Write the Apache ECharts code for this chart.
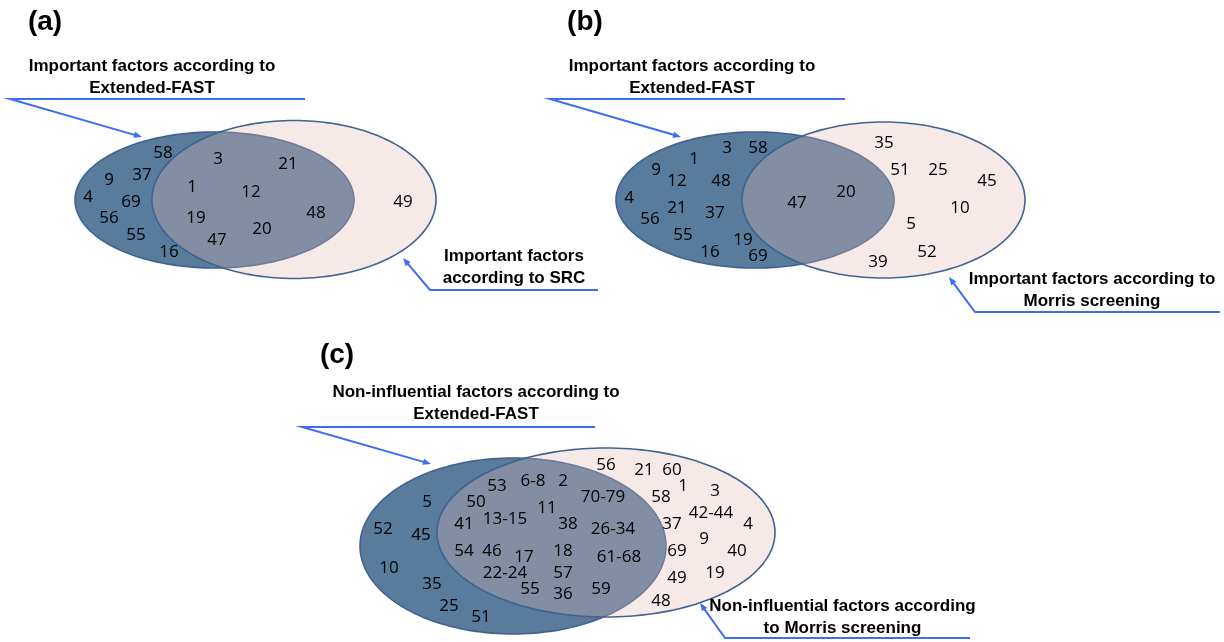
<!DOCTYPE html>
<html>
<head>
<meta charset="utf-8">
<script src="https://cdn.jsdelivr.net/npm/echarts@6/dist/echarts.min.js"></script>
<style>
html,body{margin:0;padding:0;background:#ffffff;}
#chart{width:1224px;height:642px;}
</style>
</head>
<body>
<div id="chart"></div>
<script>
// ---------------- DATA ----------------
const panelNames = ['(a)', '(b)', '(c)'];

const setTitles = [
  ['Important factors according to\nExtended-FAST', 'Important factors\naccording to SRC'],
  ['Important factors according to\nExtended-FAST', 'Important factors according to\nMorris screening'],
  ['Non-influential factors according to\nExtended-FAST', 'Non-influential factors according\nto Morris screening']
];

// (a) Extended-FAST vs SRC
const aOnlyFAST = ['58', '9', '37', '4', '69', '56', '55', '16'];
const aBoth     = ['3', '21', '1', '12', '19', '20', '47', '48'];
const aOnlySRC  = ['49'];

// (b) Extended-FAST vs Morris
const bOnlyFAST   = ['3', '58', '1', '9', '12', '48', '4', '21', '37', '56', '55', '16', '19', '69'];
const bBoth       = ['47', '20'];
const bOnlyMorris = ['35', '51', '25', '45', '10', '5', '52', '39'];

// (c) non-influential: Extended-FAST vs Morris
const cOnlyFAST   = ['5', '52', '45', '10', '35', '25', '51'];
const cBoth       = ['53', '6-8', '2', '50', '70-79', '11', '41', '13-15', '38', '26-34',
                     '54', '46', '17', '18', '61-68', '22-24', '57', '55', '36', '59'];
const cOnlyMorris = ['56', '21', '60', '1', '3', '58', '42-44', '37', '4', '9', '69', '40', '19', '49', '48'];

// ---------------- LAYOUT (drawing space 0..1224 x 0..642) ----------------
const ellipseLayout = [ // [cx, cy, rx, ry] ; first = Extended-FAST set, second = other set
  [[214.5, 200, 139.5, 68], [294, 199.5, 142, 79]],
  [[755, 200, 139, 68], [883.5, 200, 141.5, 78]],
  [[513, 546, 153, 88], [606, 532.5, 169, 84.5]]
];
const panelLabelPos = [[45, 22], [585, 22], [337, 355]];
const titlePos = [
  [[152, 77.5], [514, 267.5]],
  [[692, 77.5], [1092, 290]],
  [[476, 403.5], [842.5, 617]]
];
const calloutPaths = [
  [[305, 99], [10, 99], [142, 137]],
  [[598, 290], [430, 290], [403, 258]],
  [[845, 99], [550, 99], [681, 137]],
  [[1220, 312], [975, 312], [949, 277]],
  [[595, 427], [302, 427], [431, 464]],
  [[970, 638], [725, 638], [700, 603]]
];
const aPos = {
  fast: [[163,153],[109,180],[142,175],[88,197],[131,202],[109,218],[136,235],[169,252]],
  both: [[218,159],[288,164],[192,187],[251,192],[196,218],[262,229],[217,240],[316,213]],
  other: [[403,202]]
};
const bPos = {
  fast: [[727,148],[758,148],[694,159],[656,170],[677,181],[721,181],[629,198],[677,208],[715,213],[650,219],[683,235],[710,252],[743,240],[758,256]],
  both: [[797,203],[846,192]],
  other: [[884,143],[900,170],[938,170],[987,181],[960,208],[911,224],[927,252],[878,262]]
};
const cPos = {
  fast: [[427,502],[383,529],[421,535],[389,568],[432,584],[449,606],[481,617]],
  both: [[497,486],[533,481],[563,481],[476,502],[603,497],[547,508],[464,524],[505,519],[568,524],[613,529],
         [464,551],[492,551],[524,557],[563,551],[619,557],[505,573],[563,573],[530,589],[563,594],[601,589]],
  other: [[606,465],[644,470],[672,470],[683,486],[715,491],[661,497],[711,513],[672,524],[748,524],[704,539],
          [677,551],[737,551],[715,573],[677,578],[661,601]]
};

// ---------------- BUILD ----------------
function pts(names, pos) {
  return names.map((n, i) => ({ name: n, value: pos[i] }));
}
const numberData = [].concat(
  pts(aOnlyFAST, aPos.fast), pts(aBoth, aPos.both), pts(aOnlySRC, aPos.other),
  pts(bOnlyFAST, bPos.fast), pts(bBoth, bPos.both), pts(bOnlyMorris, bPos.other),
  pts(cOnlyFAST, cPos.fast), pts(cBoth, cPos.both), pts(cOnlyMorris, cPos.other)
);
const titleData = [];
setTitles.forEach((pair, p) => pair.forEach((t, k) => titleData.push({ name: t, value: titlePos[p][k] })));
const panelData = panelNames.map((n, i) => ({ name: n, value: panelLabelPos[i] }));

const ellipseData = [];
ellipseLayout.forEach(pair => {
  ellipseData.push(pair[0].concat([0]));
  ellipseData.push(pair[1].concat([1]));
});

const DARK_FILL = '#597b9c';
const PINK_FILL = 'rgba(224,186,180,0.30)';
const EDGE = '#41628f';
const CALLOUT = '#3d6df2';

const chart = echarts.init(document.getElementById('chart'), null, { renderer: 'canvas' });

function textSeries(data, font) {
  return {
    type: 'custom', silent: true, z: 5,
    data: data.map(d => d.value),
    renderItem: function (params, api) {
      const p = api.coord([api.value(0), api.value(1)]);
      return {
        type: 'text',
        x: p[0], y: p[1],
        style: Object.assign({
          text: data[params.dataIndex].name,
          fill: '#000',
          align: 'center',
          verticalAlign: 'middle'
        }, font)
      };
    }
  };
}

chart.setOption({
  animation: false,
  backgroundColor: '#ffffff',
  grid: { left: 0, right: 0, top: 0, bottom: 0, containLabel: false },
  xAxis: { type: 'value', min: 0, max: 1224, show: false },
  yAxis: { type: 'value', min: 0, max: 642, inverse: true, show: false },
  series: [
    {
      type: 'custom', silent: true, z: 1,
      data: ellipseData,
      renderItem: function (params, api) {
        const c = api.coord([api.value(0), api.value(1)]);
        const s = api.size([api.value(2), api.value(3)]);
        const rx = Math.abs(s[0]), ry = Math.abs(s[1]);
        const kind = api.value(4);
        const points = [];
        for (let i = 0; i < 180; i++) {
          const t = i / 180 * Math.PI * 2;
          points.push([c[0] + rx * Math.cos(t), c[1] + ry * Math.sin(t)]);
        }
        return {
          type: 'polygon',
          shape: { points: points },
          style: { fill: kind === 0 ? DARK_FILL : PINK_FILL, stroke: EDGE, lineWidth: 1.6 }
        };
      }
    },
    {
      type: 'custom', silent: true, z: 2,
      data: calloutPaths.map((p, i) => [i]),
      renderItem: function (params, api) {
        const path = calloutPaths[api.value(0)].map(p => api.coord(p));
        const a = path[path.length - 2], b = path[path.length - 1];
        const dx = b[0] - a[0], dy = b[1] - a[1];
        const len = Math.sqrt(dx * dx + dy * dy);
        const ux = dx / len, uy = dy / len;
        const L = 8, W = 3.2;
        const base = [b[0] - ux * L, b[1] - uy * L];
        const head = [
          [b[0], b[1]],
          [base[0] - uy * W, base[1] + ux * W],
          [base[0] + uy * W, base[1] - ux * W]
        ];
        const linePts = path.slice(0, -1).concat([[b[0] - ux * (L - 2), b[1] - uy * (L - 2)]]);
        return {
          type: 'group',
          children: [
            { type: 'polyline', shape: { points: linePts }, style: { stroke: CALLOUT, lineWidth: 2, fill: null } },
            { type: 'polygon', shape: { points: head }, style: { fill: CALLOUT } }
          ]
        };
      }
    },
    textSeries(numberData, { font: 'normal 17px "Open Sans"' }),
    textSeries(titleData, { font: 'bold 17px "Liberation Sans"', lineHeight: 22 }),
    textSeries(panelData, { font: 'bold 28px "Liberation Sans"' })
  ]
});
</script>
</body>
</html>
